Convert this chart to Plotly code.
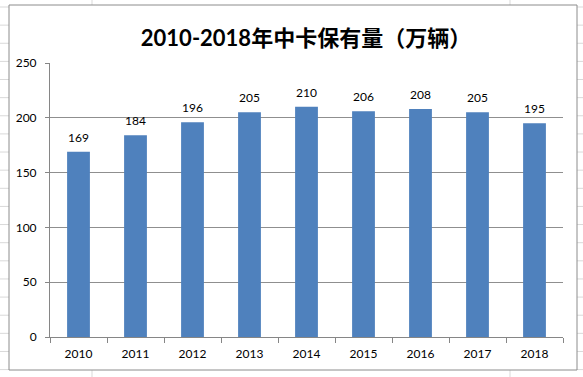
import plotly.graph_objects as go

years = ["2010", "2011", "2012", "2013", "2014", "2015", "2016", "2017", "2018"]
values = [169, 184, 196, 205, 210, 206, 208, 205, 195]
y_ticks = [0, 50, 100, 150, 200, 250]
title = "2010-2018年中卡保有量（万辆）"

W, H = 583, 377
L, R, T, B = 50, 20, 63, 40
PW, PH = W - L - R, H - T - B

def px(x):
    return (x - L) / PW

def py(y):
    return (H - B - y) / PH

fig = go.Figure()
fig.add_trace(go.Bar(
    x=years, y=values, marker_color="#4F81BD", marker_line_width=0,
    hoverinfo="skip",
))
for i, v in enumerate(values):
    fig.add_annotation(x=i, y=v, text=str(v), showarrow=False, yanchor="bottom", yshift=5,
                       font=dict(size=12, color="#000000", family="Lato, DejaVu Sans"))

shapes = []
# spreadsheet grid outside the chart frame
k = 0
while 7 + 18.13 * k < H:
    yy = 7 + 18.13 * k
    shapes.append(dict(type="line", xref="paper", yref="paper", x0=px(0), x1=px(9), y0=py(yy), y1=py(yy),
                       line=dict(color="#d9d9d9", width=1), layer="below"))
    shapes.append(dict(type="line", xref="paper", yref="paper", x0=px(577), x1=px(583), y0=py(yy), y1=py(yy),
                       line=dict(color="#d9d9d9", width=1), layer="below"))
    k += 1
for xx in [92, 510]:
    shapes.append(dict(type="line", xref="paper", yref="paper", x0=px(xx), x1=px(xx), y0=py(0), y1=py(377),
                       line=dict(color="#d9d9d9", width=1), layer="below"))
# chart frame
shapes.append(dict(type="rect", xref="paper", yref="paper", x0=px(9), x1=px(577), y0=py(370), y1=py(5),
                   line=dict(color="#8c8c8c", width=1), fillcolor="#ffffff", layer="below"))
fig.update_layout(shapes=shapes)

fig.update_layout(
    width=W, height=H,
    margin=dict(l=L, r=R, t=T, b=B),
    paper_bgcolor="#ffffff", plot_bgcolor="rgba(0,0,0,0)",
    bargap=0.6, showlegend=False,
    title=dict(text="<b>" + title + "</b>", xref="container", yref="container",
               x=306 / W, xanchor="center", y=1 - 38 / H, yanchor="middle",
               font=dict(size=22, color="#000000", family="Lato, Noto Sans CJK SC")),
    font=dict(family="Lato, DejaVu Sans", size=12, color="#000000"),
)
fig.update_xaxes(
    type="category", range=[-0.5, len(years) - 0.5], showline=True, linecolor="#868686", linewidth=1,
    ticks="outside", tickson="boundaries", ticklen=5, tickcolor="#868686",
    tickfont=dict(size=12), showgrid=False, ticklabelstandoff=6, tickangle=0,
)
fig.update_yaxes(
    range=[0, 250], tickvals=y_ticks, showline=True, linecolor="#868686", linewidth=1,
    ticks="outside", ticklen=4, tickcolor="#868686",
    showgrid=True, gridcolor="#8f8f8f", gridwidth=1, zeroline=False,
    tickfont=dict(size=12), ticklabelstandoff=6,
)

fig.write_html(
    "out.html",
    config={"displayModeBar": False},
    post_script="document.body.style.margin='0';document.body.style.overflow='hidden';",
)
